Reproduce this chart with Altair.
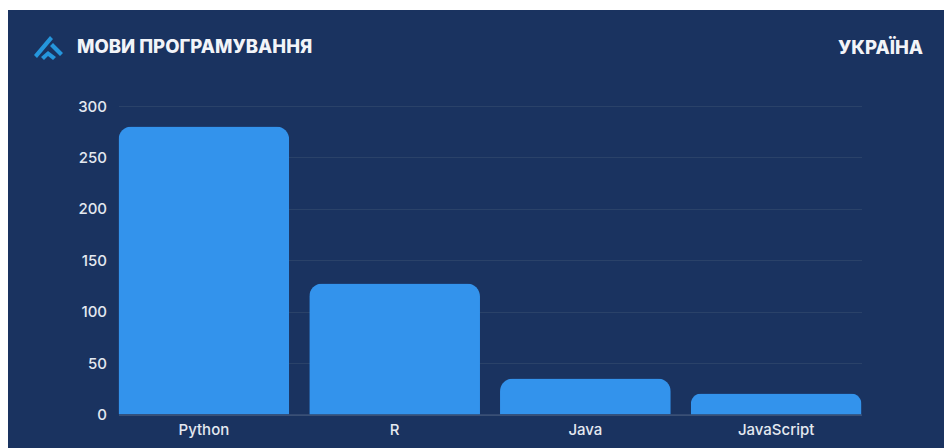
import altair as alt
import pandas as pd

languages = ["Python", "R", "Java", "JavaScript"]
counts = [280, 127.5, 35, 20.5]
y_ticks = [0, 50, 100, 150, 200, 250, 300]

NAVY = "#1a3360"
BLUE = "#3393ec"
TEXT = "#e4e9f0"
GRID = "#2a4269"
W, H = 743, 308.5
LEFT, TOP, RIGHT, BOTTOM = 118.5, 106, 82.5, 33.5
FONT = "Inter"

source = pd.DataFrame({"language": languages, "count": counts})
one = pd.DataFrame({"a": [0]})

# white page edge along the top and left of the navy card
edge_top = alt.Chart(one).mark_rect(color="white", clip=False).encode(
    x=alt.value(-LEFT), x2=alt.value(W + RIGHT),
    y=alt.value(-TOP), y2=alt.value(10 - TOP),
)
edge_left = alt.Chart(one).mark_rect(color="white", clip=False).encode(
    x=alt.value(-LEFT), x2=alt.value(8 - LEFT),
    y=alt.value(-TOP), y2=alt.value(H + BOTTOM),
)

bars = alt.Chart(source).mark_bar(
    color=BLUE, cornerRadiusTopLeft=13, cornerRadiusTopRight=13
).encode(
    x=alt.X("language:N", sort=languages, title=None,
            scale=alt.Scale(paddingInner=0.105, paddingOuter=0),
            axis=alt.Axis(labelAngle=0, labelColor=TEXT, labelFont=FONT, labelFontSize=15,
                          labelFontWeight=500, labelPadding=8, ticks=False,
                          domainColor="#4a5f82", grid=False)),
    y=alt.Y("count:Q", title=None,
            scale=alt.Scale(domain=[0, 300], nice=False),
            axis=alt.Axis(values=y_ticks, labelColor=TEXT, labelFont=FONT, labelFontSize=15,
                          labelFontWeight=500, labelPadding=12, ticks=False, domain=False,
                          gridColor=GRID, gridWidth=1, grid=True)),
)

# brand mark: a long slanted stroke, a shorter one and a small chevron beneath
logo_path = (
    "M-14,7 L2,-12 L5,-9 L-11,10 Z "
    "M2,-2 L5,-5 L15,5 L12,8 Z "
    "M-7,9 L0,3 L8,9 L5,12 L0,8 L-4,12 Z"
)
logo = alt.Chart(one).mark_point(
    shape=logo_path, size=4, filled=True, color="#2596dc", opacity=1, clip=False
).encode(x=alt.value(48 - LEFT), y=alt.value(48 - TOP))

title = alt.Chart(one).mark_text(
    text="МОВИ ПРОГРАМУВАННЯ", color="#f2f4f8", font=FONT, fontSize=18.5, fontWeight=800,
    align="left", baseline="middle", clip=False
).encode(x=alt.value(77 - LEFT), y=alt.value(47 - TOP))

country = alt.Chart(one).mark_text(
    text="УКРАЇНА", color="#f2f4f8", font=FONT, fontSize=18.5, fontWeight=800,
    align="right", baseline="middle", clip=False
).encode(x=alt.value(923 - LEFT), y=alt.value(48 - TOP))

chart = alt.layer(edge_top, edge_left, bars, logo, title, country).properties(
    width=W, height=H, background=NAVY,
    padding={"left": LEFT, "top": TOP, "right": RIGHT, "bottom": BOTTOM},
    autosize=alt.AutoSizeParams(type="none"),
).configure_view(stroke=None)

chart.save("out.html", embed_options={"renderer": "svg", "actions": False})
